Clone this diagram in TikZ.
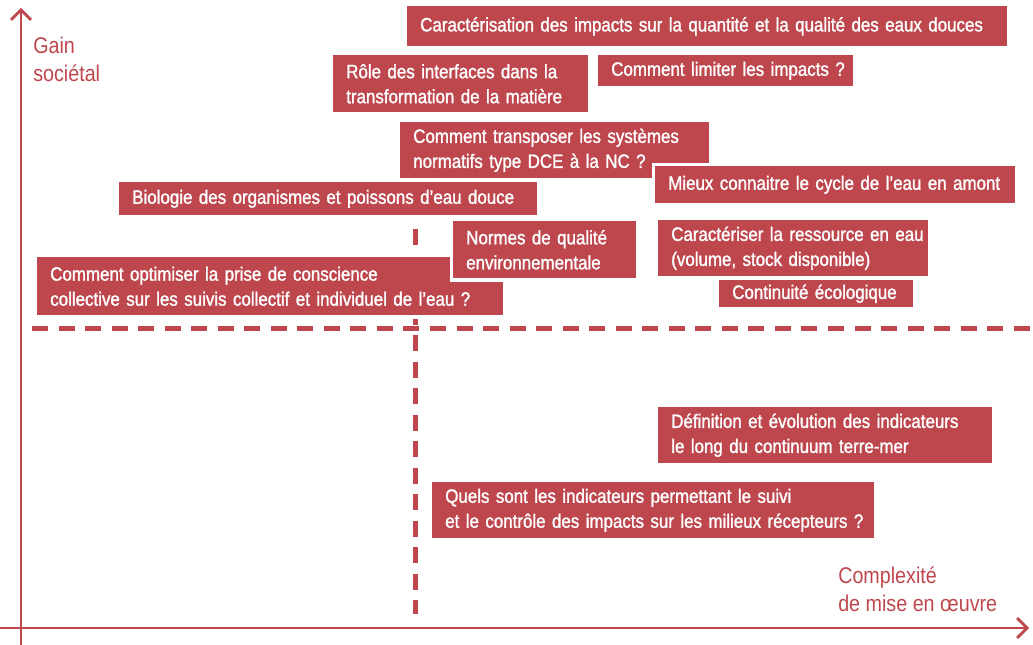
\documentclass[tikz,border=0pt]{standalone}
\usepackage{fontspec}
\setmainfont{Liberation Sans}
\newfontfamily\cf[FakeStretch=0.87]{Liberation Sans}
\newfontfamily\cfb[FakeStretch=0.875,FakeBold=1.4]{Liberation Sans}
\usetikzlibrary{arrows.meta}
\definecolor{rouge}{RGB}{190,71,78}
\newcommand\lgn[1]{\mbox{#1}}
\begin{document}
\begin{tikzpicture}[x=0.75pt,y=-0.75pt,
 box/.style={fill=rouge, preaction={draw=white, line width=5pt}, text=white, anchor=north west,
   inner xsep=9.75pt, inner ysep=0pt, align=left, font=\cfb\fontsize{14.5}{18.75}\selectfont},
 axis/.style={draw=rouge, line width=2.2pt, -{Straight Barb[length=7.5pt,width=15pt,line width=2pt]}},
 dline/.style={draw=rouge, line width=3.75pt, dash pattern=on 12pt off 7.9pt},
 lab/.style={text=rouge, anchor=north west, inner sep=0pt, align=left, font=\cf\fontsize{17}{20.5}\selectfont}
]
\useasboundingbox (0,0) rectangle (1033,645);
% axes
\coordinate (yb) at (21,645);
\coordinate (yt) at (21,8);
\coordinate (xl) at (0,628);
\coordinate (xr) at (1029,628);
\draw[axis] (yb) -- (yt);
\draw[axis] (xl) -- (xr);
% dashed quadrant lines
\coordinate (hl) at (32,328.5);
\coordinate (hr) at (1040,328.5);
\coordinate (vt) at (415,229);
\coordinate (vb) at (415,614);
\draw[dline] (hl) -- (hr);
\draw[dline] (vt) -- (vb);
% labels
\node[lab] (gain) at (33,37) {Gain\\sociétal};
\node[lab] (cplx) at (838,567) {Complexité\\de mise en œuvre};
% boxes
\node[box, minimum width=450pt, text width=430.5pt, minimum height=30pt] (b1) at (407,6)
  {\lgn{Caractérisation des impacts sur la quantité et la qualité des eaux douces}};
\node[box, minimum width=191.25pt, text width=171.75pt, minimum height=42.75pt] (b2) at (333,55)
  {\lgn{Rôle des interfaces dans la}\\\lgn{transformation de la matière}};
\node[box, minimum width=191.25pt, text width=171.75pt, minimum height=23.25pt] (b3) at (598,55)
  {\lgn{Comment limiter les impacts ?}};
\node[box, minimum width=231.75pt, text width=212.25pt, minimum height=42pt] (b4) at (400,122)
  {\lgn{Comment transposer les systèmes}\\\lgn{normatifs type DCE à la NC ?}};
\node[box, minimum width=270pt, text width=250.5pt, minimum height=27.75pt] (b5) at (655,166)
  {\lgn{Mieux connaitre le cycle de l’eau en amont}};
\node[box, minimum width=313.5pt, text width=294pt, minimum height=24.75pt] (b6) at (119,182)
  {\lgn{Biologie des organismes et poissons d’eau douce}};
\node[box, minimum width=349.5pt, text width=330pt, minimum height=43.5pt] (b10) at (37,257)
  {\lgn{Comment optimiser la prise de conscience}\\\lgn{collective sur les suivis collectif et individuel de l’eau ?}};
\node[box, minimum width=137.25pt, text width=117.75pt, minimum height=42.75pt] (b7) at (453,221)
  {\lgn{Normes de qualité}\\\lgn{environnementale}};
\node[box, minimum width=202.5pt, text width=183pt, minimum height=42pt] (b8) at (658,220)
  {\lgn{Caractériser la ressource en eau}\\\lgn{(volume, stock disponible)}};
\node[box, minimum width=145.5pt, text width=126pt, minimum height=20.25pt] (b9) at (719,280)
  {\lgn{Continuité écologique}};
\node[box, minimum width=250.5pt, text width=231pt, minimum height=42pt] (b11) at (658,407)
  {\lgn{Définition et évolution des indicateurs}\\\lgn{le long du continuum terre-mer}};
\node[box, minimum width=331.5pt, text width=312pt, minimum height=42pt, inner xsep=7pt] (b12) at (432,482)
  {\lgn{Quels sont les indicateurs permettant le suivi}\\\lgn{et le contrôle des impacts sur les milieux récepteurs ?}};
\end{tikzpicture}
\end{document}
